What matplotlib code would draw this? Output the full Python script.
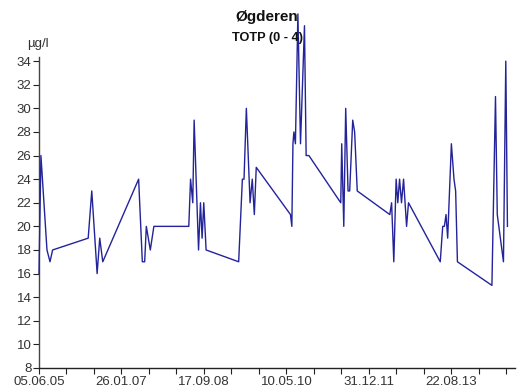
import matplotlib
matplotlib.use("Agg")
import matplotlib.pyplot as plt
import numpy as np
import pandas as pd

plt.rcParams['font.family'] = ['Liberation Sans', 'DejaVu Sans']

title = "Øgderen"
subtitle = "TOTP (0 - 4)"
unit_label = "µg/l"

dates = [
    "2005-06-05", "2005-06-19", "2005-08-02", "2005-08-24", "2005-09-12",
    "2006-05-29", "2006-06-24", "2006-08-02", "2006-08-21", "2006-09-12",
    "2007-05-31", "2007-06-27", "2007-07-14", "2007-07-26", "2007-08-24", "2007-09-19",
    "2008-05-30", "2008-06-12", "2008-06-28", "2008-07-08", "2008-08-09", "2008-08-23",
    "2008-09-04", "2008-09-16", "2008-10-03",
    "2009-05-28", "2009-06-24", "2009-07-06", "2009-07-23", "2009-08-19", "2009-09-04",
    "2009-09-19", "2009-10-03",
    "2010-06-09", "2010-06-19", "2010-06-27", "2010-07-04", "2010-07-15", "2010-08-02",
    "2010-08-21", "2010-09-19", "2010-10-01", "2010-10-21",
    "2011-06-10", "2011-06-17", "2011-07-02", "2011-07-16", "2011-08-02", "2011-08-14",
    "2011-09-05", "2011-09-19", "2011-10-08",
    "2012-06-01", "2012-06-14", "2012-06-30", "2012-07-17", "2012-07-29", "2012-08-11",
    "2012-08-25", "2012-09-09", "2012-10-01", "2012-10-15",
    "2013-06-03", "2013-06-21", "2013-07-03", "2013-07-15", "2013-07-27", "2013-08-23",
    "2013-09-11", "2013-09-23", "2013-10-06",
    "2014-06-14", "2014-07-10", "2014-07-23", "2014-09-06", "2014-09-23", "2014-10-05",
]
values = [
    16, 26, 18, 17, 18,
    19, 23, 16, 19, 17,
    24, 17, 17, 20, 18, 20,
    20, 24, 22, 29, 18, 22,
    19, 22, 18,
    17, 24, 24, 30, 22, 24,
    21, 25,
    21, 20, 27, 28, 27, 38,
    27, 37, 26, 26,
    22, 27, 20, 30, 23, 23,
    29, 28, 23,
    21, 22, 17, 24, 22, 24,
    22, 24, 20, 22,
    17, 20, 20, 21, 19, 27,
    24, 23, 17,
    15, 31, 21, 17, 34, 20,
]

x_start = "2005-06-05"
x_end = "2014-11-29"
tick_labels = ["05.06.05", "26.01.07", "17.09.08", "10.05.10", "31.12.11", "22.08.13"]
y_ticks = list(range(8, 35, 2))

x = pd.to_datetime(dates)

fig = plt.figure(figsize=(5.2, 3.92), dpi=100)
ax = fig.add_axes([39/520, 1 - 368/392, (515 - 39)/520, (368 - 57)/392])

ax.plot(x, values, color="#23239a", lw=1.0, clip_on=False, zorder=3)

ax.set_xlim(pd.Timestamp(x_start), pd.Timestamp(x_end))
ax.set_ylim(8, 34.35)

start = pd.Timestamp(x_start)
all_ticks = [start + pd.Timedelta(days=200 * i) for i in range(18)]
ax.set_xticks(all_ticks)
lab = []
for i in range(18):
    lab.append(tick_labels[i // 3] if i % 3 == 0 else "")
ax.set_xticklabels(lab)
ax.set_yticks(y_ticks)
ax.set_yticklabels([str(v) for v in y_ticks])

for s in ["top", "right"]:
    ax.spines[s].set_visible(False)
ax.spines["left"].set_color("#444444")
ax.spines["bottom"].set_color("#222222")
ax.spines["left"].set_linewidth(1.0)
ax.spines["bottom"].set_linewidth(1.0)
ax.tick_params(axis="both", direction="out", length=4, width=0.8,
               colors="#222222", labelsize=9.5, labelcolor="#333333", pad=1.5)

fig.text(267/520, 1 - 17/392, title, ha="center", va="center",
         fontsize=11, fontweight="bold", color="#111111")
fig.text(268/520, 1 - 38/392, subtitle, ha="center", va="center",
         fontsize=9.2, fontweight="bold", color="#111111")
fig.text(38/520, 1 - 44/392, unit_label, ha="center", va="center",
         fontsize=9.5, color="#333333")

fig.savefig("out.png", dpi=100)
